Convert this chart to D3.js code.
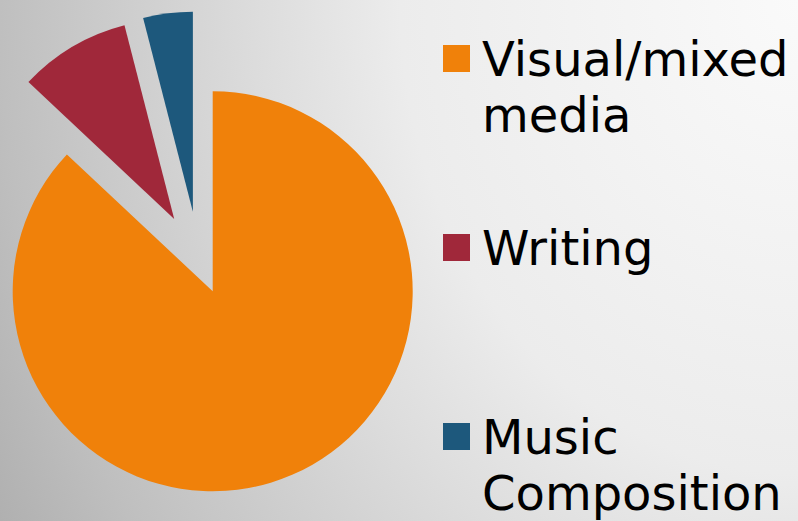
<!DOCTYPE html>
<html>
<head>
<meta charset="utf-8">
<script src="https://cdn.jsdelivr.net/npm/d3@7"></script>
<style>
  html, body { margin: 0; padding: 0; overflow: hidden; }
  svg { display: block; }
</style>
</head>
<body>
<div id="chart"></div>
<script>
var width = 798,
    height = 521,
    radius = 200;

// data
var categories = ["Visual/mixed media", "Writing", "Music Composition"];
var labelLines = [["Visual/mixed", "media"], ["Writing"], ["Music", "Composition"]];
var values = [87, 9, 4];
var colors = ["#f0810a", "#a0283a", "#1d587c"];

// how far each slice is pulled out, and in which direction (deg, clockwise from 12 o'clock)
var explode = [0, 82, 82];
var explodeDir = [null, 332, 346];

var svg = d3.select("#chart").append("svg")
    .attr("width", width)
    .attr("height", height);

var defs = svg.append("defs");
var grad = defs.append("radialGradient")
    .attr("id", "bg")
    .attr("gradientUnits", "userSpaceOnUse")
    .attr("cx", width).attr("cy", 0).attr("r", 910)
    .attr("gradientTransform", "translate(" + width + ",0) scale(1,1.19) translate(" + (-width) + ",0)");
[[0, "#fafafa"], [0.437, "#ececec"], [0.59, "#dddddd"], [0.877, "#bfbfbf"], [1, "#b0b0b0"]]
  .forEach(function(s) {
    grad.append("stop").attr("offset", s[0]).attr("stop-color", s[1]);
  });

svg.append("rect")
    .attr("width", width)
    .attr("height", height)
    .attr("fill", "url(#bg)");

var pie = d3.pie()
    .sort(null)
    .value(function(d) { return d; });

var arc = d3.arc()
    .innerRadius(0)
    .outerRadius(radius);

var g = svg.append("g")
    .attr("transform", "translate(212.7,291.3)");

g.selectAll("path")
    .data(pie(values))
  .enter().append("path")
    .attr("fill", function(d, i) { return colors[i]; })
    .attr("d", arc)
    .attr("transform", function(d, i) {
      if (!explode[i]) return null;
      var a = (explodeDir[i] != null ? explodeDir[i] : (d.startAngle + d.endAngle) / 2 * 180 / Math.PI) * Math.PI / 180;
      return "translate(" + (Math.sin(a) * explode[i]) + "," + (-Math.cos(a) * explode[i]) + ")";
    });

// legend
var legend = svg.append("g")
    .attr("transform", "translate(443,45)");

var item = legend.selectAll(".item")
    .data(categories)
  .enter().append("g")
    .attr("class", "item")
    .attr("transform", function(d, i) { return "translate(0," + (i * 189) + ")"; });

item.append("rect")
    .attr("width", 27)
    .attr("height", 27)
    .attr("fill", function(d, i) { return colors[i]; });

item.append("text")
    .attr("x", 39)
    .attr("y", 31)
    .attr("font-family", "'DejaVu Sans', Verdana, sans-serif")
    .attr("font-size", 48)
    .attr("fill", "#000")
    .each(function(d, i) {
      var t = d3.select(this);
      labelLines[i].forEach(function(line, j) {
        t.append("tspan")
          .attr("x", 39)
          .attr("dy", j === 0 ? 0 : 56)
          .text(line);
      });
    });
</script>
</body>
</html>
